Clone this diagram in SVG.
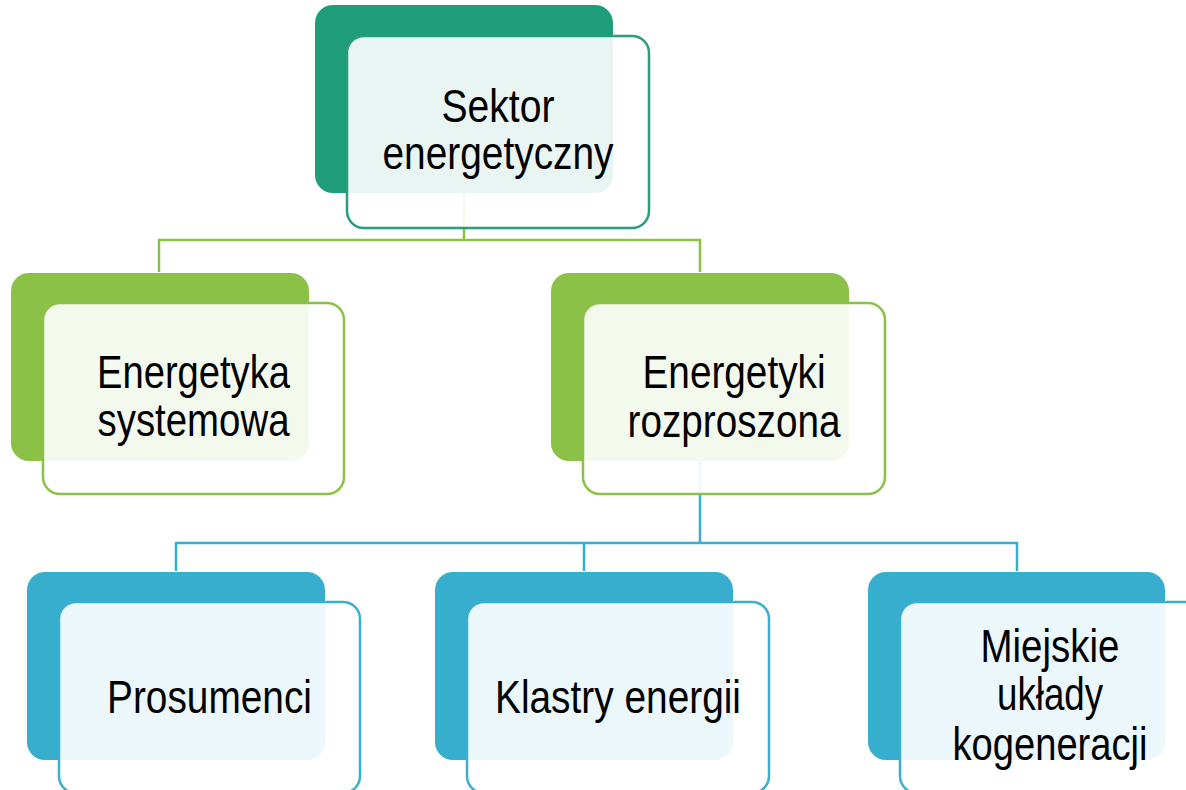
<svg xmlns="http://www.w3.org/2000/svg" width="1186" height="790" viewBox="0 0 1186 790">
<style>
.t{font-family:"Liberation Sans Narrow","Liberation Sans",Arial,sans-serif;font-size:47px;fill:#000;text-anchor:middle}
.c1{fill:none;stroke:#8cc148;stroke-width:2.5}
.c2{fill:none;stroke:#37aecd;stroke-width:2.5}
.f{fill:#fff;fill-opacity:0.9;stroke-width:2.5}
.d0{fill:#1f9c7a}.s0{stroke:#2a9d7c}
.d1{fill:#8cc148}.s1{stroke:#8cc148}
.d2{fill:#37aecd}.s2{stroke:#3aafcf}
</style>
<rect width="1186" height="790" fill="#fff"/>
<g id="connectors">
<path class="c1" d="M464,193 V240 M159,272 V240 H700 V272"/>
<path class="c2" d="M700,461 V543 M176,571 V543 H1017 V571 M584,543 V571"/>
</g>
<g id="n-sektor">
<rect class="d0" x="315" y="5" width="298" height="188" rx="18"/>
<rect class="f s0" x="347" y="36" width="302" height="192" rx="17"/>
<text class="t" x="498" y="122" textLength="113" lengthAdjust="spacingAndGlyphs">Sektor</text>
<text class="t" x="498" y="169" textLength="231" lengthAdjust="spacingAndGlyphs">energetyczny</text>
</g>
<g id="n-systemowa">
<rect class="d1" x="11" y="273" width="298" height="188" rx="18"/>
<rect class="f s1" x="43" y="303" width="301" height="191" rx="17"/>
<text class="t" x="193.5" y="388" textLength="193" lengthAdjust="spacingAndGlyphs">Energetyka</text>
<text class="t" x="193.5" y="436" textLength="192" lengthAdjust="spacingAndGlyphs">systemowa</text>
</g>
<g id="n-rozproszona">
<rect class="d1" x="551" y="273" width="298" height="188" rx="18"/>
<rect class="f s1" x="583" y="303" width="302" height="191" rx="17"/>
<text class="t" x="734" y="388" textLength="183" lengthAdjust="spacingAndGlyphs">Energetyki</text>
<text class="t" x="734" y="437" textLength="213" lengthAdjust="spacingAndGlyphs">rozproszona</text>
</g>
<g id="n-prosumenci">
<rect class="d2" x="27" y="572" width="298" height="188" rx="18"/>
<rect class="f s2" x="59" y="602" width="301" height="191" rx="17"/>
<text class="t" x="209.5" y="713" textLength="205" lengthAdjust="spacingAndGlyphs">Prosumenci</text>
</g>
<g id="n-klastry">
<rect class="d2" x="435" y="572" width="298" height="188" rx="18"/>
<rect class="f s2" x="467" y="602" width="302" height="191" rx="17"/>
<text class="t" x="618" y="713" textLength="246" lengthAdjust="spacingAndGlyphs">Klastry energii</text>
</g>
<g id="n-miejskie">
<rect class="d2" x="868" y="572" width="297" height="188" rx="18"/>
<rect class="f s2" x="900" y="602" width="302" height="191" rx="17"/>
<text class="t" x="1050" y="662" textLength="139" lengthAdjust="spacingAndGlyphs">Miejskie</text>
<text class="t" x="1050" y="710" textLength="106" lengthAdjust="spacingAndGlyphs">układy</text>
<text class="t" x="1050" y="760" textLength="195" lengthAdjust="spacingAndGlyphs">kogeneracji</text>
</g>
</svg>
